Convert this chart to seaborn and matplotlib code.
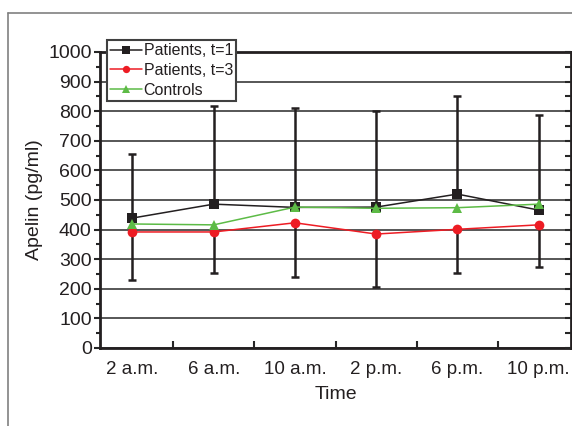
import numpy as np
import pandas as pd
import matplotlib.pyplot as plt
import matplotlib.lines as mlines
from matplotlib.ticker import MultipleLocator
import seaborn as sns

# Data
times = ['2 a.m.', '6 a.m.', '10 a.m.', '2 p.m.', '6 p.m.', '10 p.m.']
patients_t1 = [439, 486, 475, 476, 520, 466]
patients_t3 = [392, 392, 423, 385, 401, 416]
controls = [419, 416, 476, 472, 474, 486]
t1_upper = [655, 818, 811, 801, 851, 787]   # top of error bar (t=1)
t3_lower = [230, 254, 240, 205, 254, 275]   # bottom of error bar (t=3)

groups = ['Patients, t=1', 'Patients, t=3', 'Controls']
colors = ['#231f20', '#ed1c24', '#5dbb46']
markers = ['s', 'o', '^']

df = pd.DataFrame({
    'Time': times * 3,
    'Apelin': patients_t1 + patients_t3 + controls,
    'Group': [g for g in groups for _ in times],
})

sns.set_style('white')
plt.rcParams['font.family'] = ['Liberation Sans', 'DejaVu Sans']

fig = plt.figure(figsize=(5.72, 4.26), dpi=100)
ax = fig.add_axes([100 / 572, 78 / 426, 471 / 572, 296 / 426])

# outer grey frame of the figure panel
fig.add_artist(mlines.Line2D([8 / 572, 8 / 572], [0, 1 - 13 / 426],
                             color='#808080', lw=1.2, transform=fig.transFigure))
fig.add_artist(mlines.Line2D([8 / 572, 1], [1 - 13 / 426, 1 - 13 / 426],
                             color='#808080', lw=1.2, transform=fig.transFigure))

# error bars: upper half from t=1, lower half from t=3
up = np.array(t1_upper) - np.array(patients_t1)
lo = np.array(patients_t3) - np.array(t3_lower)
ax.errorbar(times, patients_t1, yerr=[np.zeros(len(times)), up], fmt='none',
            ecolor='#231f20', elinewidth=1.8, capsize=2.6, capthick=1.8, zorder=2)
ax.errorbar(times, patients_t3, yerr=[lo, np.zeros(len(times))], fmt='none',
            ecolor='#231f20', elinewidth=1.8, capsize=2.6, capthick=1.8, zorder=2)

sns.lineplot(data=df, x='Time', y='Apelin', hue='Group', style='Group',
             palette=colors, markers=markers, dashes=False, sort=False,
             markersize=7, markeredgewidth=0, linewidth=1.1, ax=ax, zorder=3)

ax.set_xlim(-0.4, 5.4)
ax.set_ylim(0, 1000)
ax.yaxis.set_major_locator(MultipleLocator(100))
ax.yaxis.set_minor_locator(MultipleLocator(50))
ax.set_xticks(np.arange(len(times)))
ax.set_xticks(np.arange(len(times) - 1) + 0.5, minor=True)
ax.grid(axis='y', which='major', color='#3a3a3a', lw=1.2)
ax.set_axisbelow(True)

for s in ax.spines.values():
    s.set_color('#231f20')
    s.set_linewidth(2)

ax.tick_params(axis='y', which='major', direction='out', length=4, width=1.5,
               labelsize=14, pad=2, left=True, right=False, labelcolor='#231f20')
ax.tick_params(axis='y', which='minor', direction='out', length=3, width=1.5,
               left=True, right=False)
ax.tick_params(axis='x', which='major', length=0, labelsize=13.5, pad=9,
               labelcolor='#231f20')
ax.tick_params(axis='x', which='minor', direction='in', length=5, width=1.5,
               bottom=True)

# inward ticks on the right spine
ax2 = ax.twinx()
ax2.set_ylim(ax.get_ylim())
ax2.yaxis.set_major_locator(MultipleLocator(100))
ax2.yaxis.set_minor_locator(MultipleLocator(50))
ax2.tick_params(axis='y', which='both', direction='in', length=4, width=1.5,
                labelright=False)
for s in ax2.spines.values():
    s.set_visible(False)

ax.set_xlabel('Time', fontsize=14, labelpad=6, color='#231f20')
ax.set_ylabel('Apelin (pg/ml)', fontsize=14, labelpad=4, color='#231f20')

handles, labels = ax.get_legend_handles_labels()
leg = ax.legend(handles, labels, loc='upper left',
                bbox_to_anchor=(107 / 572, 1 - 40 / 426),
                bbox_transform=fig.transFigure, fontsize=11.5, frameon=True,
                fancybox=False, edgecolor='#404040', framealpha=1,
                handlelength=2.0, handletextpad=0.1, borderpad=0.2,
                labelspacing=0.3, borderaxespad=0, markerscale=0.75)
leg.get_frame().set_linewidth(1.5)
leg.set_zorder(10)
for t in leg.get_texts():
    t.set_color('#231f20')

fig.savefig('out.png', dpi=100)
